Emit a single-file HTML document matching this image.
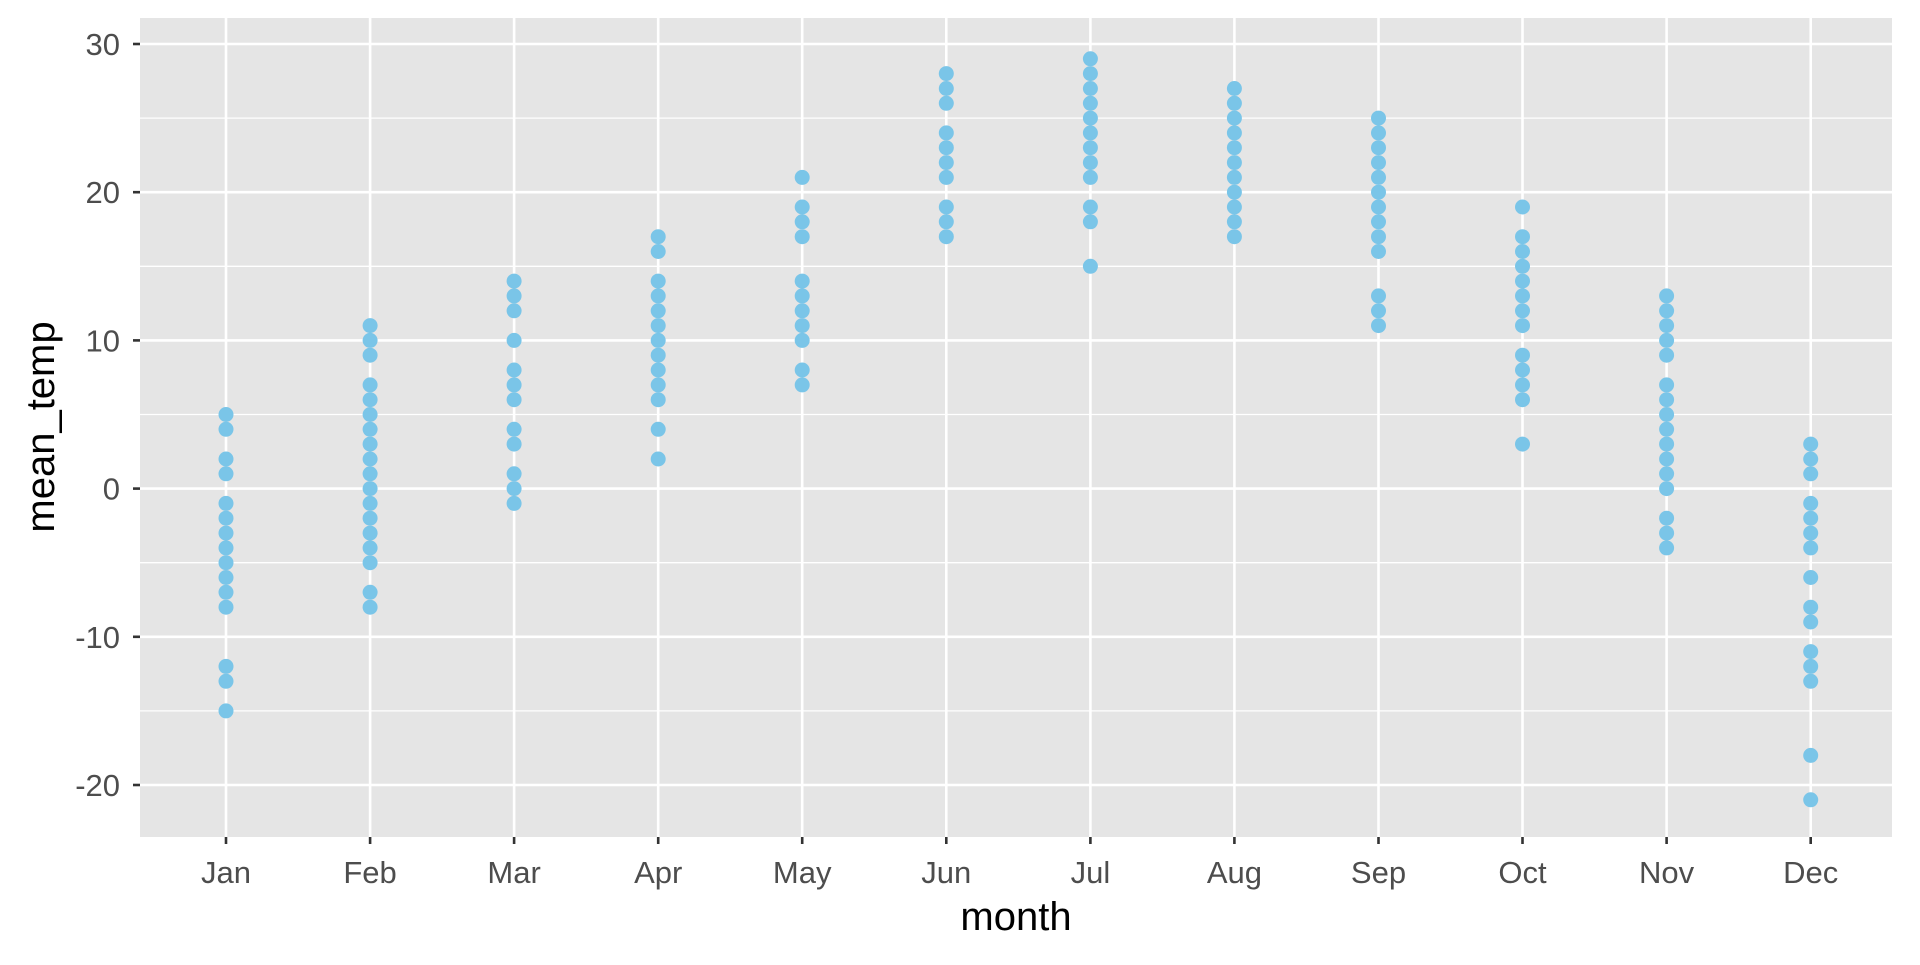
<!DOCTYPE html>
<html><head><style>body{margin:0;background:#fff}</style></head><body>
<svg width="1920" height="960" xmlns="http://www.w3.org/2000/svg" font-family="Liberation Sans, sans-serif">
<rect x="140" y="18" width="1752" height="819" fill="#e5e5e5"/>
<g stroke="#fff" stroke-width="1.3">
<line x1="140" x2="1892" y1="118.1" y2="118.1"/><line x1="140" x2="1892" y1="266.3" y2="266.3"/><line x1="140" x2="1892" y1="414.5" y2="414.5"/><line x1="140" x2="1892" y1="562.7" y2="562.7"/><line x1="140" x2="1892" y1="710.9" y2="710.9"/>
</g>
<g stroke="#fff" stroke-width="2.6">
<line x1="140" x2="1892" y1="44" y2="44"/><line x1="140" x2="1892" y1="192.2" y2="192.2"/><line x1="140" x2="1892" y1="340.4" y2="340.4"/><line x1="140" x2="1892" y1="488.6" y2="488.6"/><line x1="140" x2="1892" y1="636.8" y2="636.8"/><line x1="140" x2="1892" y1="785" y2="785"/>
<line x1="226" x2="226" y1="18" y2="837"/><line x1="370.1" x2="370.1" y1="18" y2="837"/><line x1="514.1" x2="514.1" y1="18" y2="837"/><line x1="658.2" x2="658.2" y1="18" y2="837"/><line x1="802.2" x2="802.2" y1="18" y2="837"/><line x1="946.3" x2="946.3" y1="18" y2="837"/><line x1="1090.4" x2="1090.4" y1="18" y2="837"/><line x1="1234.4" x2="1234.4" y1="18" y2="837"/><line x1="1378.5" x2="1378.5" y1="18" y2="837"/><line x1="1522.5" x2="1522.5" y1="18" y2="837"/><line x1="1666.6" x2="1666.6" y1="18" y2="837"/><line x1="1810.7" x2="1810.7" y1="18" y2="837"/>
</g>
<g stroke="#333" stroke-width="2.6">
<line x1="133" x2="140" y1="44" y2="44"/><line x1="133" x2="140" y1="192.2" y2="192.2"/><line x1="133" x2="140" y1="340.4" y2="340.4"/><line x1="133" x2="140" y1="488.6" y2="488.6"/><line x1="133" x2="140" y1="636.8" y2="636.8"/><line x1="133" x2="140" y1="785" y2="785"/>
<line x1="226" x2="226" y1="837" y2="844"/><line x1="370.1" x2="370.1" y1="837" y2="844"/><line x1="514.1" x2="514.1" y1="837" y2="844"/><line x1="658.2" x2="658.2" y1="837" y2="844"/><line x1="802.2" x2="802.2" y1="837" y2="844"/><line x1="946.3" x2="946.3" y1="837" y2="844"/><line x1="1090.4" x2="1090.4" y1="837" y2="844"/><line x1="1234.4" x2="1234.4" y1="837" y2="844"/><line x1="1378.5" x2="1378.5" y1="837" y2="844"/><line x1="1522.5" x2="1522.5" y1="837" y2="844"/><line x1="1666.6" x2="1666.6" y1="837" y2="844"/><line x1="1810.7" x2="1810.7" y1="837" y2="844"/>
</g>
<g font-size="31" fill="#4d4d4d" text-anchor="end">
<text x="120" y="55">30</text><text x="120" y="203.2">20</text><text x="120" y="351.4">10</text><text x="120" y="499.6">0</text><text x="120" y="647.8">-10</text><text x="120" y="796">-20</text>
</g>
<g font-size="31" fill="#4d4d4d" text-anchor="middle">
<text x="226" y="883">Jan</text><text x="370.1" y="883">Feb</text><text x="514.1" y="883">Mar</text><text x="658.2" y="883">Apr</text><text x="802.2" y="883">May</text><text x="946.3" y="883">Jun</text><text x="1090.4" y="883">Jul</text><text x="1234.4" y="883">Aug</text><text x="1378.5" y="883">Sep</text><text x="1522.5" y="883">Oct</text><text x="1666.6" y="883">Nov</text><text x="1810.7" y="883">Dec</text>
</g>
<g fill="#7ac5e8">
<g transform="translate(226,0)"><circle r="7.5" cy="414.5"/><circle r="7.5" cy="429.3"/><circle r="7.5" cy="459"/><circle r="7.5" cy="473.8"/><circle r="7.5" cy="503.4"/><circle r="7.5" cy="518.2"/><circle r="7.5" cy="533.1"/><circle r="7.5" cy="547.9"/><circle r="7.5" cy="562.7"/><circle r="7.5" cy="577.5"/><circle r="7.5" cy="592.3"/><circle r="7.5" cy="607.2"/><circle r="7.5" cy="666.4"/><circle r="7.5" cy="681.3"/><circle r="7.5" cy="710.9"/></g>
<g transform="translate(370.1,0)"><circle r="7.5" cy="325.6"/><circle r="7.5" cy="340.4"/><circle r="7.5" cy="355.2"/><circle r="7.5" cy="384.9"/><circle r="7.5" cy="399.7"/><circle r="7.5" cy="414.5"/><circle r="7.5" cy="429.3"/><circle r="7.5" cy="444.1"/><circle r="7.5" cy="459"/><circle r="7.5" cy="473.8"/><circle r="7.5" cy="488.6"/><circle r="7.5" cy="503.4"/><circle r="7.5" cy="518.2"/><circle r="7.5" cy="533.1"/><circle r="7.5" cy="547.9"/><circle r="7.5" cy="562.7"/><circle r="7.5" cy="592.3"/><circle r="7.5" cy="607.2"/></g>
<g transform="translate(514.1,0)"><circle r="7.5" cy="281.1"/><circle r="7.5" cy="295.9"/><circle r="7.5" cy="310.8"/><circle r="7.5" cy="340.4"/><circle r="7.5" cy="370"/><circle r="7.5" cy="384.9"/><circle r="7.5" cy="399.7"/><circle r="7.5" cy="429.3"/><circle r="7.5" cy="444.1"/><circle r="7.5" cy="473.8"/><circle r="7.5" cy="488.6"/><circle r="7.5" cy="503.4"/></g>
<g transform="translate(658.2,0)"><circle r="7.5" cy="236.7"/><circle r="7.5" cy="251.5"/><circle r="7.5" cy="281.1"/><circle r="7.5" cy="295.9"/><circle r="7.5" cy="310.8"/><circle r="7.5" cy="325.6"/><circle r="7.5" cy="340.4"/><circle r="7.5" cy="355.2"/><circle r="7.5" cy="370"/><circle r="7.5" cy="384.9"/><circle r="7.5" cy="399.7"/><circle r="7.5" cy="429.3"/><circle r="7.5" cy="459"/></g>
<g transform="translate(802.2,0)"><circle r="7.5" cy="177.4"/><circle r="7.5" cy="207"/><circle r="7.5" cy="221.8"/><circle r="7.5" cy="236.7"/><circle r="7.5" cy="281.1"/><circle r="7.5" cy="295.9"/><circle r="7.5" cy="310.8"/><circle r="7.5" cy="325.6"/><circle r="7.5" cy="340.4"/><circle r="7.5" cy="370"/><circle r="7.5" cy="384.9"/></g>
<g transform="translate(946.3,0)"><circle r="7.5" cy="73.6"/><circle r="7.5" cy="88.5"/><circle r="7.5" cy="103.3"/><circle r="7.5" cy="132.9"/><circle r="7.5" cy="147.7"/><circle r="7.5" cy="162.6"/><circle r="7.5" cy="177.4"/><circle r="7.5" cy="207"/><circle r="7.5" cy="221.8"/><circle r="7.5" cy="236.7"/></g>
<g transform="translate(1090.4,0)"><circle r="7.5" cy="58.8"/><circle r="7.5" cy="73.6"/><circle r="7.5" cy="88.5"/><circle r="7.5" cy="103.3"/><circle r="7.5" cy="118.1"/><circle r="7.5" cy="132.9"/><circle r="7.5" cy="147.7"/><circle r="7.5" cy="162.6"/><circle r="7.5" cy="177.4"/><circle r="7.5" cy="207"/><circle r="7.5" cy="221.8"/><circle r="7.5" cy="266.3"/></g>
<g transform="translate(1234.4,0)"><circle r="7.5" cy="88.5"/><circle r="7.5" cy="103.3"/><circle r="7.5" cy="118.1"/><circle r="7.5" cy="132.9"/><circle r="7.5" cy="147.7"/><circle r="7.5" cy="162.6"/><circle r="7.5" cy="177.4"/><circle r="7.5" cy="192.2"/><circle r="7.5" cy="207"/><circle r="7.5" cy="221.8"/><circle r="7.5" cy="236.7"/></g>
<g transform="translate(1378.5,0)"><circle r="7.5" cy="118.1"/><circle r="7.5" cy="132.9"/><circle r="7.5" cy="147.7"/><circle r="7.5" cy="162.6"/><circle r="7.5" cy="177.4"/><circle r="7.5" cy="192.2"/><circle r="7.5" cy="207"/><circle r="7.5" cy="221.8"/><circle r="7.5" cy="236.7"/><circle r="7.5" cy="251.5"/><circle r="7.5" cy="295.9"/><circle r="7.5" cy="310.8"/><circle r="7.5" cy="325.6"/></g>
<g transform="translate(1522.5,0)"><circle r="7.5" cy="207"/><circle r="7.5" cy="236.7"/><circle r="7.5" cy="251.5"/><circle r="7.5" cy="266.3"/><circle r="7.5" cy="281.1"/><circle r="7.5" cy="295.9"/><circle r="7.5" cy="310.8"/><circle r="7.5" cy="325.6"/><circle r="7.5" cy="355.2"/><circle r="7.5" cy="370"/><circle r="7.5" cy="384.9"/><circle r="7.5" cy="399.7"/><circle r="7.5" cy="444.1"/></g>
<g transform="translate(1666.6,0)"><circle r="7.5" cy="295.9"/><circle r="7.5" cy="310.8"/><circle r="7.5" cy="325.6"/><circle r="7.5" cy="340.4"/><circle r="7.5" cy="355.2"/><circle r="7.5" cy="384.9"/><circle r="7.5" cy="399.7"/><circle r="7.5" cy="414.5"/><circle r="7.5" cy="429.3"/><circle r="7.5" cy="444.1"/><circle r="7.5" cy="459"/><circle r="7.5" cy="473.8"/><circle r="7.5" cy="488.6"/><circle r="7.5" cy="518.2"/><circle r="7.5" cy="533.1"/><circle r="7.5" cy="547.9"/></g>
<g transform="translate(1810.7,0)"><circle r="7.5" cy="444.1"/><circle r="7.5" cy="459"/><circle r="7.5" cy="473.8"/><circle r="7.5" cy="503.4"/><circle r="7.5" cy="518.2"/><circle r="7.5" cy="533.1"/><circle r="7.5" cy="547.9"/><circle r="7.5" cy="577.5"/><circle r="7.5" cy="607.2"/><circle r="7.5" cy="622"/><circle r="7.5" cy="651.6"/><circle r="7.5" cy="666.4"/><circle r="7.5" cy="681.3"/><circle r="7.5" cy="755.4"/><circle r="7.5" cy="799.8"/></g>
</g>
<text x="1016" y="930" text-anchor="middle" font-size="40" fill="#000">month</text>
<text transform="translate(54,427) rotate(-90)" text-anchor="middle" font-size="40" fill="#000">mean_temp</text>
</svg>
</body></html>
